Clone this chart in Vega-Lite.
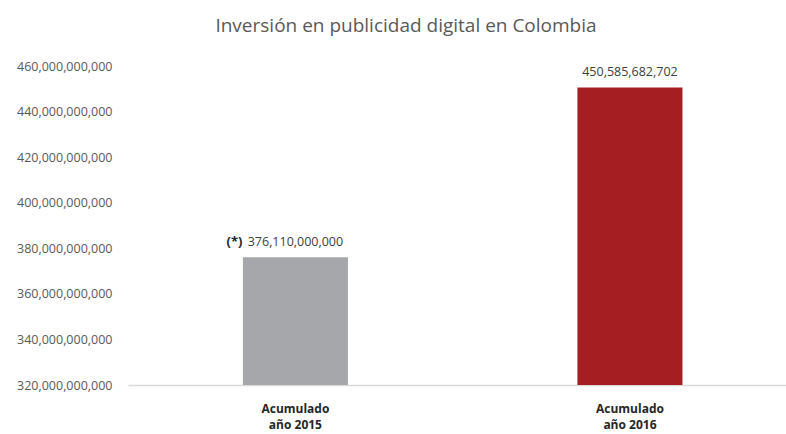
{
  "$schema": "https://vega.github.io/schema/vega-lite/v6.json",
  "autosize": "none",
  "width": 658,
  "height": 319,
  "padding": {"left": 128, "top": 66, "right": 0, "bottom": 49},
  "background": "white",
  "title": {
    "text": "Inversión en publicidad digital en Colombia",
    "font": "Open Sans",
    "fontSize": 19,
    "fontWeight": "normal",
    "color": "#595959",
    "anchor": "middle",
    "dx": -51,
    "offset": 24
  },
  "config": {"view": {"stroke": null}},
  "data": {
    "values": [
      {"periodo": "Acumulado|año 2015", "valor": 376110000000, "etiqueta": "376,110,000,000", "prefijo": "(*)", "color": "#A6A7AA"},
      {"periodo": "Acumulado|año 2016", "valor": 450585682702, "etiqueta": "450,585,682,702", "prefijo": "", "color": "#A51E22"}
    ]
  },
  "encoding": {
    "x": {
      "field": "periodo",
      "type": "nominal",
      "sort": null,
      "title": null,
      "scale": {"paddingInner": 0.686, "paddingOuter": 0.3265, "align": 0.526},
      "axis": {
        "labelExpr": "split(datum.label, '|')",
        "labelAngle": 0,
        "labelFont": "Open Sans",
        "labelFontSize": 12,
        "labelFontWeight": "bold",
        "labelColor": "#262626",
        "labelLineHeight": 16,
        "labelPadding": 18,
        "ticks": false,
        "tickSize": 0,
        "domainColor": "#d9d9d9",
        "domainWidth": 1.5,
        "grid": false
      }
    },
    "y": {
      "field": "valor",
      "type": "quantitative",
      "title": null,
      "scale": {"domain": [320000000000, 460000000000], "zero": false, "nice": false},
      "axis": {
        "values": [320000000000, 340000000000, 360000000000, 380000000000, 400000000000, 420000000000, 440000000000, 460000000000],
        "format": ",d",
        "labelFont": "Open Sans",
        "labelFontSize": 12.5,
        "labelColor": "#595959",
        "labelPadding": 16,
        "ticks": false,
        "tickSize": 0,
        "domain": false,
        "grid": false
      }
    }
  },
  "layer": [
    {
      "mark": {"type": "bar"},
      "encoding": {
        "y2": {"datum": 320000000000},
        "color": {"field": "color", "type": "nominal", "scale": null, "legend": null}
      }
    },
    {
      "mark": {"type": "text", "baseline": "bottom", "dy": -8, "font": "Open Sans", "fontSize": 12.5, "color": "#404040"},
      "encoding": {"text": {"field": "etiqueta"}}
    },
    {
      "mark": {"type": "text", "baseline": "bottom", "align": "right", "dy": -8, "dx": -53, "font": "Open Sans", "fontSize": 13, "fontWeight": "bold", "color": "#262626"},
      "encoding": {"text": {"field": "prefijo"}}
    }
  ]
}
